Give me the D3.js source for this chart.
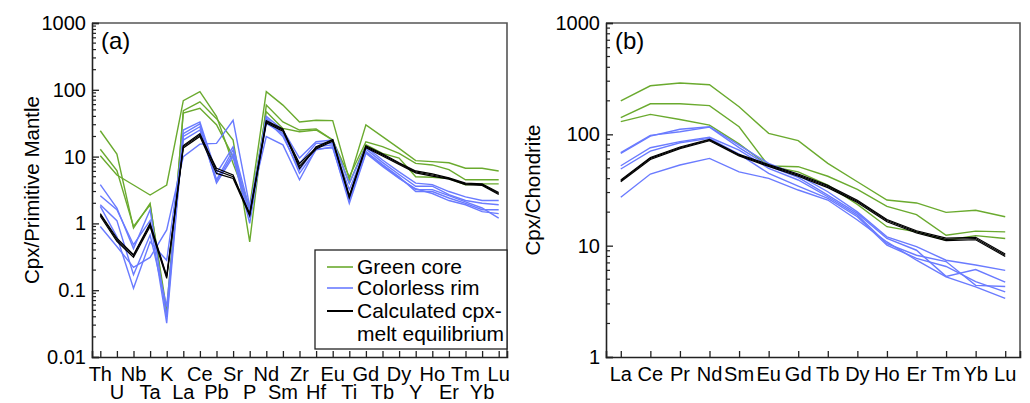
<!DOCTYPE html>
<html>
<head>
<meta charset="utf-8">
<script src="https://cdn.jsdelivr.net/npm/d3@7"></script>
<style>
  html, body { margin: 0; padding: 0; background: #fff; }
  svg text { font-family: "Liberation Sans", Arial, sans-serif; fill: #000; }
</style>
</head>
<body>
<svg id="chart" width="1030" height="403"></svg>
<script>
// ---- Spider diagram elements ----
const elemsA = ["Th","U","Nb","Ta","K","La","Ce","Pb","Sr","P","Nd","Sm","Zr","Hf","Eu","Ti","Gd","Tb","Dy","Y","Ho","Er","Tm","Yb","Lu"];
const elemsB = ["La","Ce","Pr","Nd","Sm","Eu","Gd","Tb","Dy","Ho","Er","Tm","Yb","Lu"];

// ---- (a) primitive-mantle normalised ----
const greenA1 = [24.4,10.9,0.85,2.0,0.04,48.6,66,37,17.7,0.53,59,33,25,26,17.7,5.0,16.7,14.1,11.2,7.9,7.5,6.4,4.5,4.5,4.5];
const greenA2 = [12.9,6.2,0.9,1.9,0.05,45,53,30,10,1.5,47,26.4,23.6,25,17.7,4.0,15,11.2,9.5,5.0,4.9,4.7,3.8,3.9,3.9];
const greenA3 = [10.3,5.3,3.76,2.66,3.76,68.7,94,40,7.9,1.8,94,59,33,35,34.5,4.5,29.9,19.9,13.3,8.7,8.4,8.1,6.7,6.7,6.1];
const blueA1 = [3.8,1.7,0.42,1.6,0.04,25,33,5.6,14,1.6,40,25,9.5,16.7,17.7,4.0,14,8.9,5.9,4.0,3.8,3.0,2.5,2.2,2.2];
const blueA2 = [2.6,1.6,0.48,1.1,0.032,22,31,4.5,12.6,1.3,37.5,22,7.9,15.8,16,3.2,13,8.2,5.4,3.6,3.6,2.7,2.2,2.0,1.9];
const blueA3 = [1.9,1.1,0.17,0.67,0.057,20,28,4.0,10,1.0,35,20,6.3,14,15,2.5,12,7.6,5.0,3.0,3.0,2.4,2.0,1.6,1.6];
const blueA4 = [1.8,0.63,0.107,0.53,0.28,17.7,25,4.3,11,1.2,31.5,22,5.6,12.6,14,2.0,11.2,7.1,4.7,3.3,2.8,2.2,1.9,1.5,1.4];
const blueA5 = [0.9,0.45,0.22,0.31,0.8,10,15.4,15.8,35,1.8,19.9,15,4.5,13,13.5,2.2,11.5,7.4,4.8,3.2,3.2,2.6,2.1,1.7,1.2];
const blackA1 = [1.35,0.57,0.33,0.95,0.159,14.1,21,6.7,5.3,1.35,33.3,25,7.9,13.5,17.7,2.5,14.1,10.6,7.9,5.9,5.3,4.7,3.9,3.8,2.8];
const blackA2 = [1.28,0.54,0.31,0.9,0.15,13.5,20,5.6,4.7,1.3,32,24,7.2,13,17,2.4,13.6,10.2,7.6,5.7,5.1,4.6,3.8,3.7,2.7];
const blackA3 = [1.4,0.6,0.34,1.0,0.165,14.6,22,6.2,5.0,1.4,34.5,26,6.6,14,18,2.6,14.5,11,8.1,6.1,5.5,4.8,4.0,3.9,2.9];

// ---- (b) chondrite normalised ----
const greenB1 = [200,273,289,279,177,102,87.7,54.8,37.5,25.7,24.2,19.9,20.8,18.2];
const greenB2 = [141,188,188,181,117,52,51.2,42,32,22.5,19,12.4,13.5,13.3];
const greenB3 = [130,151,136,121,82,52,46,35,23.5,14.8,13.3,11.2,12.3,11.6];
const blueB1 = [67.5,96.5,111,117,80,54.8,43,30.5,20.1,12.0,9.8,7.4,6.7,6.0];
const blueB2 = [68.5,98,105.5,116,76,51.9,41,28.5,19.5,11.6,9.1,5.3,6.1,4.7];
const blueB3 = [52.2,75.8,85.9,94,72,49.5,38.9,27.5,18.8,10.4,8.2,7.2,4.4,4.3];
const blueB4 = [48.8,70.6,84,92,66.5,44.6,34.3,26.6,18.2,10.1,7.7,6.5,4.75,3.85];
const blueB5 = [27.2,44,53,60.8,46,40.2,31.6,25.7,17,10.8,7.4,5.25,4.26,3.36];
const blackB1 = [38.3,60.8,75.8,88.9,65,52.5,43,34,25,16.8,13.3,11.4,11.6,8.2];
const blackB2 = [37.5,59.5,74.5,87.5,64,51.5,42,33.2,24.4,16.4,13.0,11.1,11.3,8.0];
const blackB3 = [39,62,77,90,66,53.5,44,34.8,25.6,17.2,13.6,11.7,11.9,8.4];

const legendLabels = [["Green core"], ["Colorless rim"], ["Calculated cpx-", "melt equilibrium"]];

const GREEN = "#6aaa2e";
const BLUE = "#6a7bff";
const BLACK = "#000";

const svg = d3.select("#chart");

function panel(opts) {
  const { left, right, top, bottom, cats, yMin, yMax, series, twoRows, tag, title, titleX } = opts;
  const g = svg.append("g");
  const x = d3.scalePoint().domain(cats).range([left, right]).padding(0.5);
  const y = d3.scaleLog().domain([yMin, yMax]).range([bottom, top]);

  // lines
  const line = d3.line().x((d, i) => x(cats[i])).y(d => y(d));
  series.forEach(s => {
    s.data.forEach(arr => {
      g.append("path").datum(arr).attr("d", line)
        .attr("fill", "none").attr("stroke", s.color)
        .attr("stroke-width", s.width).attr("stroke-linejoin", "miter");
    });
  });

  // frame: top and right borders
  g.append("path")
    .attr("d", `M${left},${top}H${right}V${bottom}`)
    .attr("fill", "none").attr("stroke", "#555").attr("stroke-width", 1.6);

  // y axis with inward ticks
  const majors = [];
  for (let e = Math.round(Math.log10(yMin)); e <= Math.round(Math.log10(yMax)); e++) majors.push(Math.pow(10, e));
  const minors = [];
  majors.slice(0, -1).forEach(m => { for (let k = 2; k <= 9; k++) minors.push(m * k); });
  const fmt = v => v >= 1 ? d3.format("d")(v) : String(+v.toPrecision(1));

  const yAxis = g.append("g").attr("transform", `translate(${left},0)`)
    .call(d3.axisLeft(y).tickValues(majors).tickSize(-7).tickFormat(fmt).tickPadding(6));
  yAxis.select(".domain").attr("stroke", "#222").attr("stroke-width", 1.6);
  yAxis.selectAll(".tick line").attr("stroke", "#222").attr("stroke-width", 1.3);
  yAxis.selectAll(".tick text").attr("font-size", 20).attr("font-family", "Liberation Sans, Arial, sans-serif").attr("fill", "#000");

  g.append("g").selectAll("line").data(minors).join("line")
    .attr("x1", left).attr("x2", left + 4)
    .attr("y1", d => y(d)).attr("y2", d => y(d))
    .attr("stroke", "#222").attr("stroke-width", 1.2);

  // x axis with inward ticks
  const xAxis = g.append("g").attr("transform", `translate(0,${bottom})`)
    .call(d3.axisBottom(x).tickSize(-6).tickFormat(""));
  xAxis.select(".domain").attr("stroke", "#222").attr("stroke-width", 1.6);
  xAxis.selectAll(".tick line").attr("stroke", "#222").attr("stroke-width", 1.3);

  g.append("g").selectAll("text").data(cats).join("text")
    .attr("x", d => x(d))
    .attr("y", (d, i) => (twoRows && i % 2 === 1) ? bottom + 42 : bottom + 24)
    .attr("text-anchor", "middle")
    .attr("font-size", 20)
    .text(d => d);

  // panel tag
  g.append("text").attr("x", left + 9).attr("y", top + 26).attr("font-size", 24).text(tag);

  // axis title
  g.append("text")
    .attr("transform", `translate(${titleX},${(top + bottom) / 2}) rotate(-90)`)
    .attr("text-anchor", "middle").attr("font-size", 20.5).text(title);

  return { x, y, g };
}

const seriesA = [
  { color: GREEN, width: 1.4, data: [greenA1, greenA2, greenA3] },
  { color: BLUE, width: 1.4, data: [blueA1, blueA2, blueA3, blueA4, blueA5] },
  { color: BLACK, width: 1.2, data: [blackA1, blackA2, blackA3] }
];
const seriesB = [
  { color: GREEN, width: 1.4, data: [greenB1, greenB2, greenB3] },
  { color: BLUE, width: 1.4, data: [blueB1, blueB2, blueB3, blueB4, blueB5] },
  { color: BLACK, width: 1.2, data: [blackB1, blackB2, blackB3] }
];

const pA = panel({ left: 92, right: 507, top: 23, bottom: 357, cats: elemsA, yMin: 0.01, yMax: 1000,
  series: seriesA, twoRows: true, tag: "(a)", title: "Cpx/Primitive Mantle", titleX: 39 });
panel({ left: 606, right: 1020, top: 23, bottom: 357, cats: elemsB, yMin: 1, yMax: 1000,
  series: seriesB, twoRows: false, tag: "(b)", title: "Cpx/Chondrite", titleX: 540 });

// legend in panel (a)
const lg = pA.g.append("g");
lg.append("rect").attr("x", 315).attr("y", 250).attr("width", 192).attr("height", 99)
  .attr("fill", "#fff").attr("stroke", "#222").attr("stroke-width", 1.3);
const legendColors = [GREEN, BLUE, BLACK];
const rowY = [267, 288, 311];
legendLabels.forEach((lab, i) => {
  lg.append("line").attr("x1", 327).attr("x2", 353).attr("y1", rowY[i]).attr("y2", rowY[i])
    .attr("stroke", legendColors[i]).attr("stroke-width", i === 2 ? 2 : 1.6);
  lab.forEach((t, j) => {
    lg.append("text").attr("x", 357).attr("y", rowY[i] + 7 + j * 23).attr("font-size", 21).text(t);
  });
});
</script>
</body>
</html>
